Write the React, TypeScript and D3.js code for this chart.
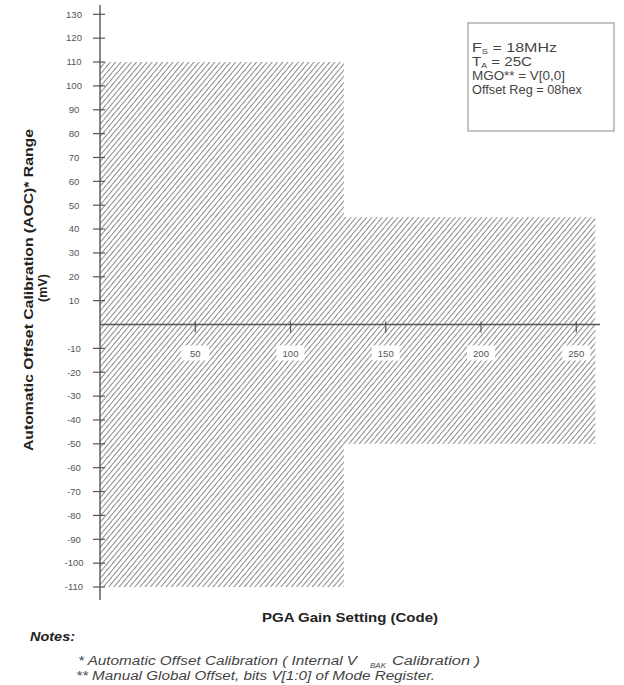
import React from "react";
import * as d3 from "d3";

const xTicks = [50, 100, 150, 200, 250];
const yTicks = [-110, -100, -90, -80, -70, -60, -50, -40, -30, -20, -10, 10, 20, 30, 40, 50, 60, 70, 80, 90, 100, 110, 120, 130];
const segStart = [0, 128];
const segEnd = [128, 260];
const segHigh = [110, 45];
const segLow = [-110, -50];

const W = 624;
const H = 685;
const FONT = "'Liberation Sans', Arial, sans-serif";

export default function App() {
  const x = d3.scaleLinear().domain([0, 260]).range([100, 595.3]);
  const y = d3.scaleLinear().domain([-110, 130]).range([587, 14.3]);
  const y0 = y(0);

  return (
    <svg width={W} height={H} style={{ position: "absolute", left: 0, top: 0, background: "#fff" }} fontFamily={FONT}>
      <defs>
        <pattern id="hatch" patternUnits="userSpaceOnUse" width={4} height={4} patternTransform="rotate(40)">
          <rect width={4} height={4} fill="#fff" />
          <line x1={0} y1={0} x2={0} y2={4} stroke="#8a8a8a" strokeWidth={2} />
        </pattern>
      </defs>

      {segStart.map((s, i) => (
        <rect
          key={"seg" + i}
          x={x(s)}
          y={y(segHigh[i])}
          width={x(segEnd[i]) - x(s)}
          height={y(segLow[i]) - y(segHigh[i])}
          fill="url(#hatch)"
        />
      ))}

      {/* Y axis */}
      <line x1={x(0)} x2={x(0)} y1={5} y2={600} stroke="#555" strokeWidth={1.4} />
      {yTicks.map((t) => (
        <g key={"yt" + t}>
          <line x1={x(0) - 7} x2={x(0) + 5} y1={y(t)} y2={y(t)} stroke="#555" strokeWidth={1.2} />
          <text x={74} y={y(t)} dy="0.35em" textAnchor="middle" fontSize={9.5} fill="#555">
            {t}
          </text>
        </g>
      ))}

      {/* X axis */}
      <line x1={x(0)} x2={600} y1={y0} y2={y0} stroke="#555" strokeWidth={1.4} />
      {xTicks.map((t) => (
        <g key={"xt" + t}>
          <line x1={x(t)} x2={x(t)} y1={y0 - 3} y2={y0 + 8} stroke="#555" strokeWidth={1.2} />
          <rect x={x(t) - 14} y={y0 + 21} width={28} height={15} fill="#fff" />
          <text x={x(t)} y={y0 + 29} dy="0.35em" textAnchor="middle" fontSize={9.5} fill="#555">
            {t}
          </text>
        </g>
      ))}

      {/* Legend box */}
      <rect x={468} y={23} width={146} height={108} fill="#fff" stroke="#888" strokeWidth={1} />
      <g fontSize={12} fill="#444">
        <text x={472} y={52} textLength={85} lengthAdjust="spacingAndGlyphs">
          F<tspan fontSize={7} dy={2}>S</tspan>
          <tspan dy={-2}> = 18MHz</tspan>
        </text>
        <text x={472} y={66} textLength={60} lengthAdjust="spacingAndGlyphs">
          T<tspan fontSize={7} dy={2}>A</tspan>
          <tspan dy={-2}> = 25C</tspan>
        </text>
        <text x={472} y={80} textLength={93} lengthAdjust="spacingAndGlyphs">MGO** = V[0,0]</text>
        <text x={472} y={94} textLength={110} lengthAdjust="spacingAndGlyphs">Offset Reg = 08hex</text>
      </g>

      {/* Y axis title */}
      <text
        transform={`translate(33, 290) rotate(-90)`}
        textAnchor="middle"
        fontSize={12.5}
        fontWeight="bold"
        fill="#222"
        textLength={322}
        lengthAdjust="spacingAndGlyphs"
      >
        Automatic Offset  Calibration  (AOC)* Range
      </text>
      <text
        transform={`translate(47, 288) rotate(-90)`}
        textAnchor="middle"
        fontSize={12.5}
        fontWeight="bold"
        fill="#222"
      >
        (mV)
      </text>

      {/* X axis title */}
      <text
        x={350}
        y={622}
        textAnchor="middle"
        fontSize={13}
        fontWeight="bold"
        fill="#222"
        textLength={176}
        lengthAdjust="spacingAndGlyphs"
      >
        PGA Gain Setting (Code)
      </text>

      {/* Notes */}
      <text x={30} y={641} fontSize={12} fontWeight="bold" fontStyle="italic" fill="#222" textLength={45} lengthAdjust="spacingAndGlyphs">
        Notes:
      </text>
      <g fontSize={12} fontStyle="italic" fill="#444">
        <text x={78} y={665} textLength={279} lengthAdjust="spacingAndGlyphs">
          * Automatic Offset Calibration ( Internal V
        </text>
        <text x={370} y={668} fontSize={8}>BAK</text>
        <text x={392} y={665} textLength={88} lengthAdjust="spacingAndGlyphs">Calibration )</text>
        <text x={76} y={680} textLength={359} lengthAdjust="spacingAndGlyphs">
          ** Manual Global Offset, bits V[1:0] of Mode Register.
        </text>
      </g>
    </svg>
  );
}
